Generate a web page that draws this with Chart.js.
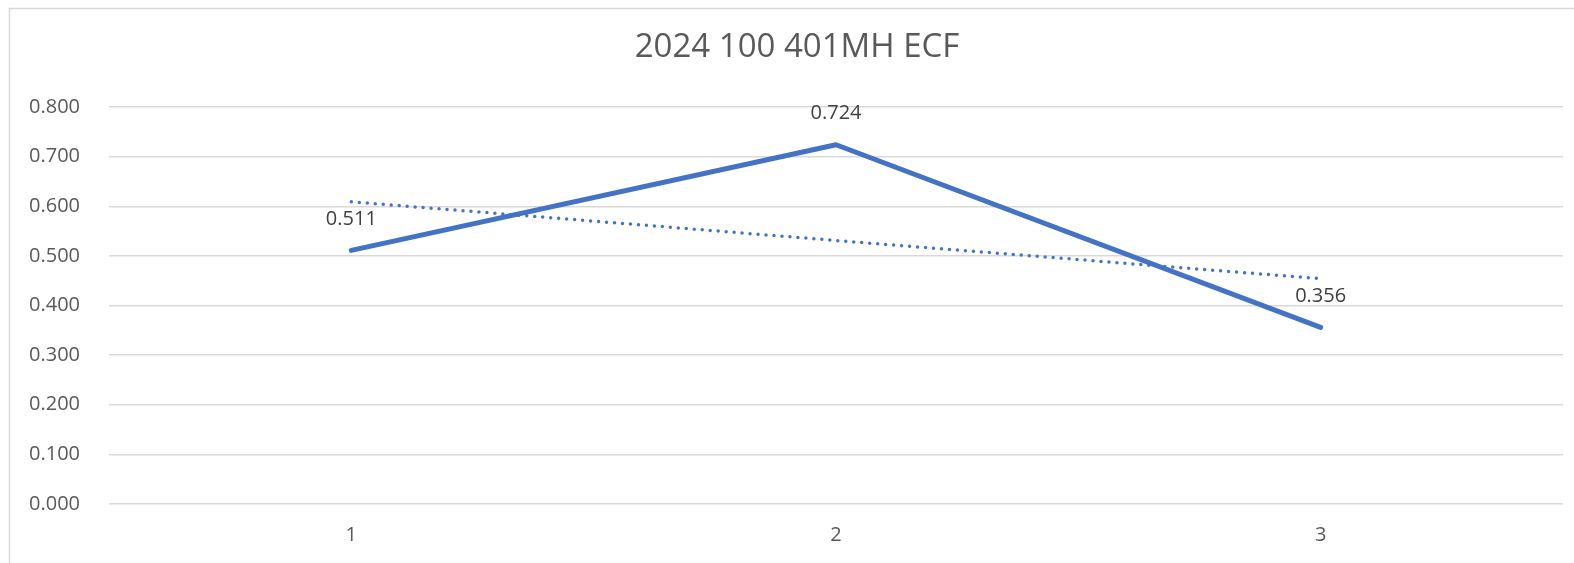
<!DOCTYPE html>
<html>
<head>
<meta charset="utf-8">
<script src="https://cdn.jsdelivr.net/npm/chart.js@4"></script>
<style>
  html, body { margin: 0; padding: 0; background: #fff; }
  #wrap { width: 1574px; height: 563px; }
</style>
</head>
<body>
<div id="wrap"><canvas id="chart" width="1574" height="563"></canvas></div>
<script>
// data
const categories = ['1', '2', '3'];
const ecfValues = [0.511, 0.724, 0.356];
const trendValues = [0.609, 0.531, 0.454];
const chartTitle = '2024 100 401MH ECF';

const blue = '#4472C4';
const gridGrey = '#d9d9d9';
const fontFamily = '"Open Sans", "Noto Sans", sans-serif';

// grey frame round the whole chart plus the title, like the spreadsheet chart box
const frame = {
  id: 'frame',
  beforeDraw(chart) {
    const ctx = chart.ctx;
    ctx.save();
    ctx.strokeStyle = gridGrey;
    ctx.lineWidth = 1.5;
    ctx.strokeRect(9.5, 8.5, chart.width + 20, chart.height + 20);
    // title sits centred on the frame, not on the plot
    ctx.font = '33px ' + fontFamily;
    ctx.fillStyle = '#595959';
    ctx.textAlign = 'center';
    ctx.textBaseline = 'middle';
    ctx.fillText(chartTitle, 797, 48);
    ctx.restore();
  }
};

// value labels above each point of the first dataset
const valueLabels = {
  id: 'valueLabels',
  afterDatasetsDraw(chart) {
    const ctx = chart.ctx;
    const meta = chart.getDatasetMeta(0);
    ctx.save();
    ctx.font = '20px ' + fontFamily;
    ctx.fillStyle = '#404040';
    ctx.textAlign = 'center';
    ctx.textBaseline = 'middle';
    meta.data.forEach((pt, i) => {
      ctx.fillText(ecfValues[i].toFixed(3), pt.x, pt.y - 31);
    });
    ctx.restore();
  }
};

new Chart(document.getElementById('chart'), {
  type: 'line',
  data: {
    labels: categories,
    datasets: [
      {
        label: 'ECF',
        data: ecfValues,
        borderColor: blue,
        borderWidth: 5,
        borderCapStyle: 'round',
        borderJoinStyle: 'round',
        pointRadius: 0,
        tension: 0
      },
      {
        label: 'Trend',
        data: trendValues,
        borderColor: blue,
        borderWidth: 3.5,
        borderDash: [0, 8],
        borderCapStyle: 'round',
        pointRadius: 0,
        tension: 0
      }
    ]
  },
  options: {
    responsive: false,
    animation: false,
    layout: { padding: { left: 0, right: 11, top: 107, bottom: 0 } },
    plugins: {
      legend: { display: false },
      tooltip: { enabled: false },
      title: { display: false }
    },
    scales: {
      x: {
        offset: true,
        grid: { display: false, drawTicks: false },
        border: { display: false },
        ticks: {
          color: '#595959',
          font: { family: fontFamily, size: 20 },
          padding: 19
        },
        afterFit(scale) { scale.height = 59; }
      },
      y: {
        min: 0,
        max: 0.8,
        grid: { color: gridGrey, lineWidth: 1.5, drawTicks: false },
        border: { display: false },
        ticks: {
          stepSize: 0.1,
          color: '#595959',
          font: { family: fontFamily, size: 20 },
          padding: 29,
          callback: (v) => Number(v).toFixed(3)
        },
        afterFit(scale) { scale.width = 109; }
      }
    }
  },
  plugins: [frame, valueLabels]
});
</script>
</body>
</html>
